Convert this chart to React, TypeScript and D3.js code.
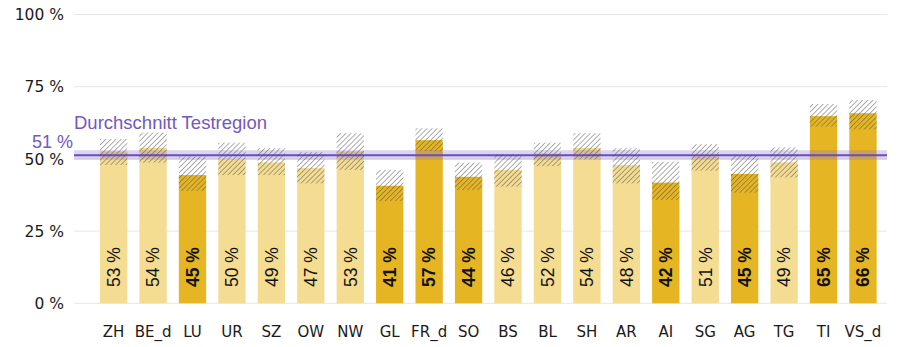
import React from "react";
import * as d3 from "d3";

const categories = ["ZH", "BE_d", "LU", "UR", "SZ", "OW", "NW", "GL", "FR_d", "SO", "BS", "BL", "SH", "AR", "AI", "SG", "AG", "TG", "TI", "VS_d"];
const values = [53, 54, 45, 50, 49, 47, 53, 41, 57, 44, 46, 52, 54, 48, 42, 51, 45, 49, 65, 66];
const barTops = [52.6, 53.8, 44.4, 49.8, 48.8, 46.8, 52.6, 40.7, 56.5, 43.8, 46.2, 51.8, 53.8, 47.8, 41.8, 50.8, 44.8, 48.8, 64.8, 65.8];
const ciLow = [47.9, 48.7, 38.9, 44.4, 44.4, 41.5, 46.2, 35.4, 52.7, 39.2, 40.4, 47.5, 49.8, 41.5, 35.8, 45.9, 38.3, 43.6, 61.2, 60.2];
const ciHigh = [56.9, 59.1, 50.8, 55.6, 53.7, 52.3, 58.9, 46.2, 60.6, 48.7, 51.6, 55.6, 58.9, 53.7, 49.0, 55.1, 51.3, 54.0, 69.0, 70.4];
const highlighted = ["LU", "GL", "FR_d", "SO", "AI", "AG", "TI", "VS_d"];
const yTicks = [0, 25, 50, 75, 100];
const average = 51.3;
const averageBand = [49.7, 53.0];
const averageLabel = "Durchschnitt Testregion";
const averageValueLabel = "51 %";

const W = 900;
const H = 347;
const FONT = "Liberation Sans, Arial, sans-serif";
const AXIS_FONT = "DejaVu Sans, Verdana, sans-serif";

export default function App() {
  const y = d3.scaleLinear().domain([0, 100]).range([303.3, 14.5]);
  const x = d3.scaleBand<string>().domain(categories).range([93.9, 882.7]).paddingInner(0.307).paddingOuter(0.1535);
  const gridX0 = 74;
  const gridX1 = 887;
  const bw = x.bandwidth();

  return (
    <svg width={W} height={H} style={{ position: "absolute", left: 0, top: 0, background: "#fff" }} fontFamily={FONT}>
      <defs>
        <pattern id="hatch" patternUnits="userSpaceOnUse" width={3.6} height={3.6} patternTransform="rotate(45)">
          <line x1={0} y1={0} x2={0} y2={3.6} stroke="#4a4a4a" strokeWidth={0.9} />
        </pattern>
      </defs>
      {yTicks.map((t) => (
        <g key={t}>
          <line x1={gridX0} x2={gridX1} y1={y(t)} y2={y(t)} stroke="#e6e6e6" strokeWidth={1} />
          <text x={64} y={y(t)} dy="0.37em" textAnchor="end" fontSize={15.5} fontFamily={AXIS_FONT} fill="#1a1a1a">
            {`${t} %`}
          </text>
        </g>
      ))}
      {categories.map((c, i) => {
        const x0 = x(c)!;
        const dark = highlighted.includes(c);
        return (
          <rect key={c} x={x0} y={y(barTops[i])} width={bw} height={y(0) - y(barTops[i])} fill={dark ? "#E5B523" : "#F4DC92"} />
        );
      })}
      <rect x={gridX0} y={y(averageBand[1])} width={gridX1 - gridX0} height={y(averageBand[0]) - y(averageBand[1])} fill="#8a70d0" fillOpacity={0.3} />
      <line x1={gridX0} x2={gridX1} y1={y(average)} y2={y(average)} stroke="#6a4cbc" strokeWidth={2} />
      {categories.map((c, i) => {
        const x0 = x(c)!;
        return (
          <rect key={c} x={x0} y={y(ciHigh[i])} width={bw} height={y(ciLow[i]) - y(ciHigh[i])} fill="url(#hatch)" />
        );
      })}
      {categories.map((c, i) => {
        const cx = x(c)! + bw / 2;
        const dark = highlighted.includes(c);
        return (
          <text
            key={c}
            transform={`translate(${cx},287) rotate(-90)`}
            dy="0.36em"
            textAnchor="start"
            fontSize={17.5}
            fontWeight={dark ? "bold" : "normal"}
            fill="#111"
          >
            {`${values[i]} %`}
          </text>
        );
      })}
      {categories.map((c) => (
        <text key={c} x={x(c)! + bw / 2} y={337} textAnchor="middle" fontSize={15} fontFamily={AXIS_FONT} fill="#1a1a1a">
          {c}
        </text>
      ))}
      <text x={74} y={129} fontSize={18.5} fill="#7357c0">
        {averageLabel}
      </text>
      <text x={73} y={148} textAnchor="end" fontSize={18} fill="#7357c0">
        {averageValueLabel}
      </text>
    </svg>
  );
}
